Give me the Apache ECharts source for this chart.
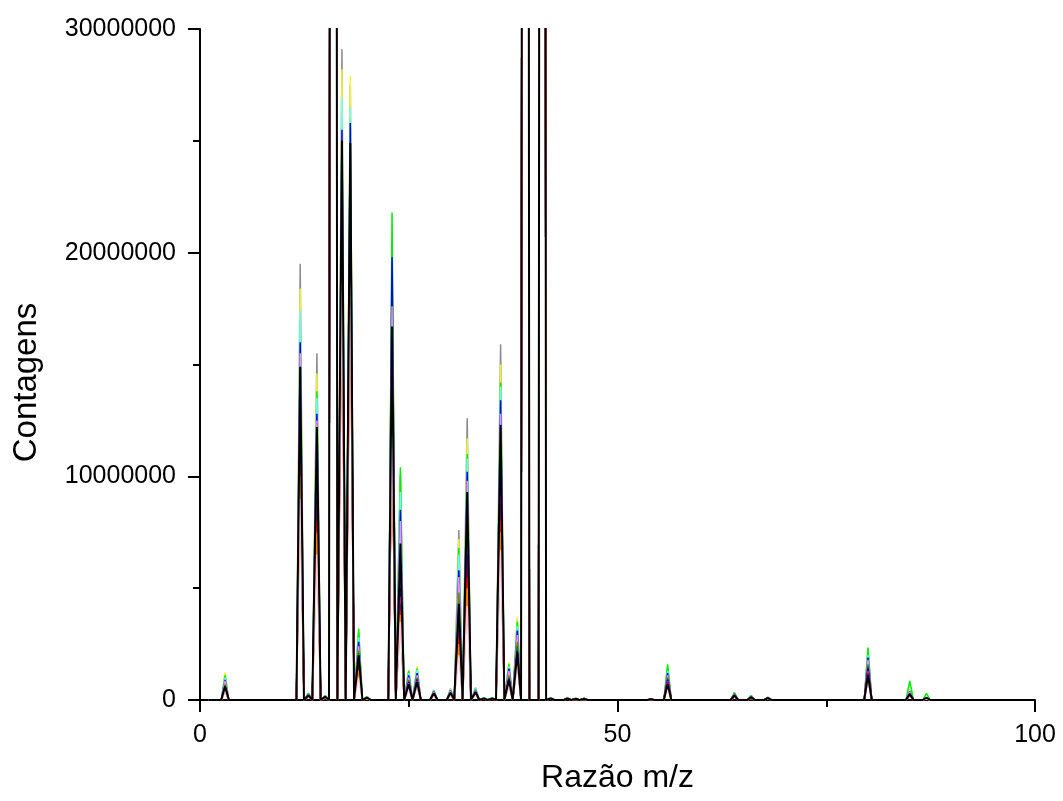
<!DOCTYPE html>
<html>
<head>
<meta charset="utf-8">
<title>Espectro de massas</title>
<script src="https://cdn.jsdelivr.net/npm/echarts@6/dist/echarts.min.js"></script>
<style>
html, body { margin: 0; padding: 0; background: #fff; }
#chart { width: 1063px; height: 801px; }
</style>
</head>
<body>
<div id="chart"></div>
<script>
// posicoes m/z dos picos
var mz = [3, 12, 13, 14, 15, 16, 17, 18, 19, 20, 23, 24, 25, 26, 28, 30, 31, 32, 33, 34, 35, 36, 37, 38, 39, 41, 42, 44, 45, 46, 54, 56, 64, 66, 68, 80, 85, 87];
var mzStart = 1, mzEnd = 100;

// contagens (milhoes) de cada curva em cada pico; 16, 39 e 41 saem da escala
var gray    = [1.1, 19.5, 0.3, 15.5, 0.2, 200, 29.1, 27.5, 2.9, 0.15, 20.5, 10.1, 1.3, 1.45, 0.45, 0.5, 7.6, 12.6, 0.55, 0.1, 0.1, 15.9, 1.65, 3.6, 200, 200, 0.1, 0.1, 0.08, 0.08, 0.05, 1.4, 0.3, 0.2, 0.12, 2.2, 0.45, 0.12];
var yellow  = [1.25, 18.4, 0.28, 14.6, 0.18, 200, 28.2, 27.9, 3.0, 0.12, 20.2, 9.7, 1.35, 1.5, 0.42, 0.48, 7.2, 11.7, 0.52, 0.1, 0.1, 15.0, 1.7, 3.7, 200, 200, 0.1, 0.1, 0.08, 0.08, 0.05, 1.45, 0.35, 0.2, 0.13, 2.1, 0.45, 0.13];
var green   = [1.1, 17.0, 0.3, 13.8, 0.2, 200, 26.0, 26.0, 3.2, 0.15, 21.8, 10.4, 1.3, 1.4, 0.42, 0.45, 6.8, 11.0, 0.5, 0.1, 0.1, 14.2, 1.6, 3.5, 200, 200, 0.1, 0.1, 0.08, 0.08, 0.05, 1.6, 0.33, 0.2, 0.12, 2.35, 0.85, 0.3];
var cyan    = [1.0, 17.4, 0.25, 13.5, 0.17, 200, 26.9, 26.5, 2.8, 0.12, 18.5, 9.3, 1.2, 1.35, 0.4, 0.45, 6.5, 10.8, 0.5, 0.08, 0.08, 14.0, 1.5, 3.3, 200, 200, 0.08, 0.08, 0.07, 0.07, 0.04, 1.3, 0.3, 0.18, 0.11, 2.0, 0.4, 0.12];
var blue    = [0.9, 16.0, 0.25, 12.8, 0.16, 200, 25.5, 25.8, 2.6, 0.1, 19.8, 8.5, 1.1, 1.2, 0.38, 0.42, 5.8, 10.2, 0.45, 0.08, 0.08, 13.4, 1.4, 3.1, 200, 200, 0.08, 0.08, 0.07, 0.07, 0.04, 1.2, 0.28, 0.17, 0.1, 1.9, 0.38, 0.11];
var violet  = [0.85, 15.5, 0.22, 12.5, 0.15, 200, 24.0, 23.0, 2.4, 0.1, 17.6, 8.0, 1.0, 1.1, 0.35, 0.4, 5.5, 9.8, 0.42, 0.07, 0.07, 12.8, 1.3, 2.9, 200, 200, 0.07, 0.07, 0.06, 0.06, 0.04, 1.1, 0.26, 0.16, 0.1, 1.8, 0.35, 0.1];
var olive   = [0.7, 13.5, 0.2, 11.0, 0.14, 200, 23.0, 23.5, 2.2, 0.1, 15.5, 6.2, 0.9, 1.0, 0.3, 0.35, 4.8, 8.5, 0.38, 0.06, 0.06, 11.2, 1.1, 2.6, 200, 200, 0.06, 0.06, 0.05, 0.05, 0.03, 1.0, 0.24, 0.14, 0.09, 1.6, 0.3, 0.09];
var dkgreen = [0.65, 13.0, 0.2, 10.5, 0.13, 200, 22.5, 22.6, 2.1, 0.1, 14.0, 5.8, 0.85, 0.95, 0.3, 0.33, 4.0, 8.0, 0.36, 0.06, 0.06, 10.5, 1.0, 2.4, 200, 200, 0.06, 0.06, 0.05, 0.05, 0.03, 0.95, 0.22, 0.13, 0.08, 1.5, 0.28, 0.08];
var navy    = [0.6, 12.5, 0.18, 10.0, 0.12, 200, 21.5, 22.0, 1.9, 0.08, 13.2, 5.0, 0.8, 0.9, 0.28, 0.3, 3.8, 7.5, 0.33, 0.05, 0.05, 9.8, 0.95, 2.2, 200, 200, 0.05, 0.05, 0.04, 0.04, 0.03, 0.9, 0.2, 0.12, 0.08, 1.4, 0.26, 0.08];
var magenta = [0.55, 12.2, 0.17, 9.5, 0.12, 200, 21.0, 21.5, 1.8, 0.08, 12.8, 4.6, 0.75, 0.85, 0.27, 0.3, 3.5, 7.0, 0.32, 0.05, 0.05, 9.3, 0.9, 2.1, 200, 200, 0.05, 0.05, 0.04, 0.04, 0.03, 0.85, 0.19, 0.11, 0.07, 1.3, 0.25, 0.07];
var purple  = [0.5, 11.5, 0.16, 9.0, 0.11, 200, 20.0, 21.0, 1.6, 0.07, 12.5, 4.3, 0.7, 0.8, 0.25, 0.28, 3.2, 6.5, 0.3, 0.05, 0.05, 8.8, 0.85, 2.0, 200, 200, 0.05, 0.05, 0.04, 0.04, 0.02, 0.8, 0.18, 0.1, 0.07, 1.2, 0.24, 0.07];
var red     = [0.45, 10.5, 0.15, 8.0, 0.1, 200, 18.5, 18.8, 1.4, 0.07, 12.2, 4.0, 0.6, 0.7, 0.22, 0.25, 2.8, 5.5, 0.28, 0.04, 0.04, 8.0, 0.75, 1.8, 200, 200, 0.04, 0.04, 0.03, 0.03, 0.02, 0.7, 0.16, 0.09, 0.06, 1.0, 0.22, 0.06];
var orange  = [0.42, 10.0, 0.14, 7.5, 0.1, 200, 19.5, 19.5, 1.3, 0.06, 12.0, 3.8, 0.58, 0.66, 0.2, 0.24, 2.5, 5.0, 0.26, 0.04, 0.04, 7.5, 0.7, 1.7, 200, 200, 0.04, 0.04, 0.03, 0.03, 0.02, 0.66, 0.15, 0.09, 0.06, 0.95, 0.2, 0.06];
var pink    = [0.4, 9.0, 0.13, 6.5, 0.09, 200, 18.5, 18.8, 1.0, 0.06, 11.8, 3.5, 0.5, 0.6, 0.18, 0.22, 2.0, 4.2, 0.24, 0.04, 0.04, 6.7, 0.6, 1.5, 200, 200, 0.04, 0.04, 0.03, 0.03, 0.02, 0.6, 0.14, 0.08, 0.05, 0.9, 0.18, 0.05];
var black   = [0.6, 14.9, 0.2, 12.2, 0.14, 200, 25.0, 24.9, 2.0, 0.1, 16.7, 7.0, 0.7, 0.8, 0.3, 0.32, 4.3, 9.3, 0.35, 0.06, 0.06, 12.3, 0.9, 2.1, 200, 200, 0.06, 0.06, 0.05, 0.05, 0.03, 0.7, 0.2, 0.12, 0.08, 1.1, 0.25, 0.1];

var curves = [gray, yellow, green, cyan, blue, violet, olive, dkgreen, navy, magenta, purple, red, orange, pink, black];
var colors = ['#8c8c8c', '#f2f23a', '#00ee00', '#66ffff', '#0000ff', '#ff88ff', '#808000', '#008000', '#000080', '#ff00ff', '#800080', '#ff0000', '#ff8000', '#ffc8e0', '#000000'];

var halfWidth = 0.45; // meia largura da base de cada pico

function spectrum(h) {
	var pts = [[mzStart, 0]];
	for (var i = 0; i < mz.length; i++) {
		pts.push([mz[i] - halfWidth, 0], [mz[i], h[i]], [mz[i] + halfWidth, 0]);
	}
	pts.push([mzEnd, 0]);
	return pts;
}

var series = [];
for (var k = 0; k < curves.length; k++) {
	series.push({
		type: 'line',
		data: spectrum(curves[k]),
		showSymbol: false,
		clip: true,
		lineStyle: { color: colors[k], width: k == curves.length - 1 ? 2 : 1.5 },
		emphasis: { disabled: true }
	});
}

var font = 'Liberation Sans';
var tickStyle = { color: '#000', width: 2 };

var myChart = echarts.init(document.getElementById('chart'));
myChart.setOption({
	animation: false,
	backgroundColor: '#fff',
	grid: { left: 200, right: 28, top: 29, bottom: 101, outerBoundsMode: 'none' },
	xAxis: {
		type: 'value', min: 0, max: 100, interval: 50,
		name: 'Razão m/z', nameLocation: 'middle', nameGap: 62,
		nameTextStyle: { fontFamily: font, fontSize: 32, color: '#000' },
		axisLine: { show: true, onZero: false, lineStyle: tickStyle },
		axisTick: { show: true, length: 12, lineStyle: tickStyle },
		minorTick: { show: true, splitNumber: 2, length: 7, lineStyle: tickStyle },
		splitLine: { show: false },
		minorSplitLine: { show: false },
		axisLabel: { fontFamily: font, fontSize: 25, color: '#000', margin: 23 }
	},
	yAxis: {
		type: 'value', min: 0, max: 30, interval: 10,
		name: 'Contagens', nameLocation: 'middle', nameGap: 157,
		nameTextStyle: { fontFamily: font, fontSize: 33, color: '#000', padding: [0, 36, 0, 0] },
		axisLine: { show: true, lineStyle: tickStyle },
		axisTick: { show: true, length: 12, lineStyle: tickStyle },
		minorTick: { show: true, splitNumber: 2, length: 7, lineStyle: tickStyle },
		splitLine: { show: false },
		minorSplitLine: { show: false },
		axisLabel: {
			fontFamily: font, fontSize: 25, color: '#000', margin: 24,
			formatter: function (v) { return String(Math.round(v * 1000000)); }
		}
	},
	series: series
});
</script>
</body>
</html>
